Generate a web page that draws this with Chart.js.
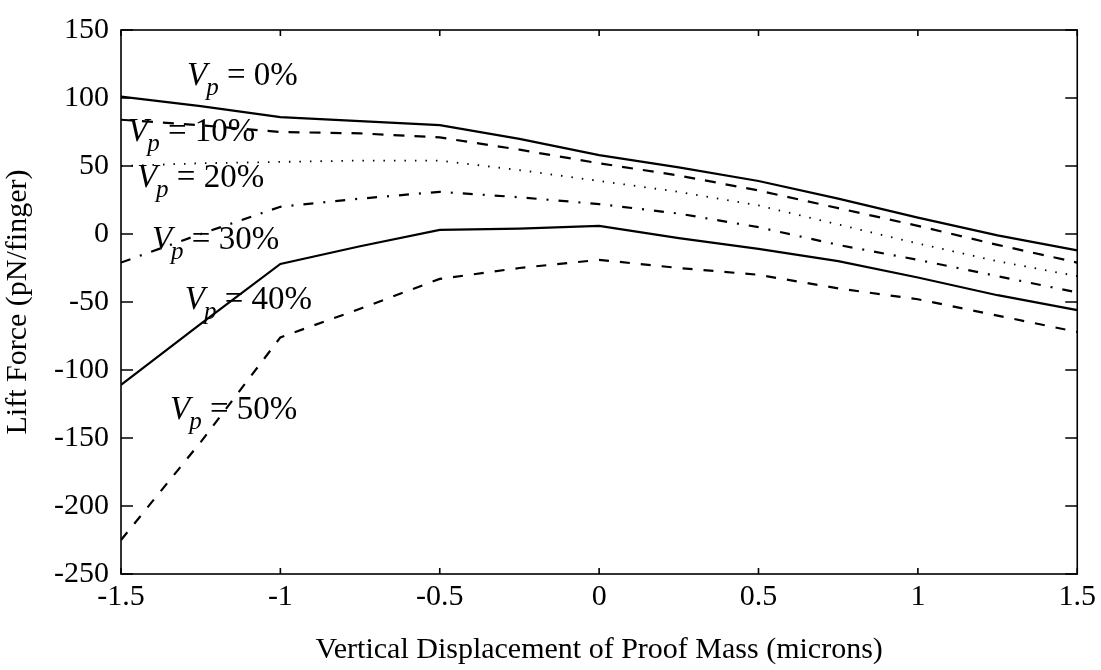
<!DOCTYPE html>
<html lang="en">
<head>
<meta charset="UTF-8">
<title>Lift Force vs Vertical Displacement</title>
<script src="https://cdn.jsdelivr.net/npm/chart.js"></script>
<style>
  html, body { margin: 0; padding: 0; background: #fff; }
</style>
</head>
<body>
<canvas id="liftChart" width="1101" height="670"></canvas>
<script>
// Vertical displacement of the proof mass (microns)
const displacement = [-1.5, -1.25, -1, -0.75, -0.5, -0.25, 0, 0.25, 0.5, 0.75, 1, 1.25, 1.5];

// Lift force per finger (pN) for each proof-mass voltage Vp
const vp0  = [101,   94,  86,  83,  80,  70,  58,  49,  39,  26,  12,  -1, -12];
const vp10 = [ 84,   80,  75,  74,  71,  62,  52,  43,  32,  19,   6,  -8, -21];
const vp20 = [ 50,   52,  53,  54,  54,  47,  39,  31,  21,   7,  -7, -20, -31];
const vp30 = [-21,    0,  20,  26,  31,  27,  22,  15,   5,  -8, -19, -31, -43];
const vp40 = [-111, -66, -22,  -9,   3,   4,   6,  -3, -11, -20, -32, -45, -56];
const vp50 = [-225, -153, -76, -55, -33, -25, -19, -25, -30, -40, -48, -60, -72];

const seriesNames = ['0%', '10%', '20%', '30%', '40%', '50%'];
const seriesValues = [vp0, vp10, vp20, vp30, vp40, vp50];

// Axis ticks
const xTickValues = [-1.5, -1, -0.5, 0, 0.5, 1, 1.5];
const yTickValues = [-250, -200, -150, -100, -50, 0, 50, 100, 150];

// line style per curve
const lineStyles = [
  { dash: [] },
  { dash: [11, 10] },
  { dash: [1.5, 9] },
  { dash: [10, 10, 2, 10] },
  { dash: [] },
  { dash: [10, 11] }
];

// where each "Vp = .." caption sits, in data units
const captionAnchors = [
  { x: -1.293, y: 109.6 },
  { x: -1.478, y: 68.7 },
  { x: -1.450, y: 34.4 },
  { x: -1.403, y: -11 },
  { x: -1.300, y: -54.8 },
  { x: -1.346, y: -136 }
];

const SERIF = '"Liberation Serif", "Times New Roman", serif';

// box frame with inward ticks plus the curve captions
const frameAndCaptions = {
  id: 'frameAndCaptions',
  afterDatasetsDraw(chart) {
    const { ctx, chartArea: a, scales: { x, y } } = chart;
    ctx.save();
    ctx.strokeStyle = '#000';
    ctx.lineWidth = 1.6;
    ctx.strokeRect(a.left, a.top, a.right - a.left, a.bottom - a.top);
    ctx.beginPath();
    x.ticks.forEach(t => {
      const px = x.getPixelForValue(t.value);
      ctx.moveTo(px, a.bottom); ctx.lineTo(px, a.bottom - 6);
      ctx.moveTo(px, a.top); ctx.lineTo(px, a.top + 6);
    });
    y.ticks.forEach(t => {
      const py = y.getPixelForValue(t.value);
      ctx.moveTo(a.left, py); ctx.lineTo(a.left + 12, py);
      ctx.moveTo(a.right, py); ctx.lineTo(a.right - 12, py);
    });
    ctx.stroke();

    ctx.fillStyle = '#000';
    ctx.textBaseline = 'alphabetic';
    ctx.textAlign = 'left';
    seriesNames.forEach((name, i) => {
      let px = x.getPixelForValue(captionAnchors[i].x);
      const py = y.getPixelForValue(captionAnchors[i].y);
      ctx.font = 'italic 33px ' + SERIF;
      ctx.fillText('V', px, py);
      px += ctx.measureText('V').width - 1;
      ctx.font = 'italic 25px ' + SERIF;
      ctx.fillText('p', px, py + 10);
      px += ctx.measureText('p').width;
      ctx.font = '33px ' + SERIF;
      ctx.fillText(' = ' + name, px, py);
    });
    ctx.restore();
  }
};

const datasets = seriesValues.map((vals, i) => ({
  label: 'Vp = ' + seriesNames[i],
  data: displacement.map((d, k) => ({ x: d, y: vals[k] })),
  borderColor: '#000',
  borderWidth: i === 2 ? 1.8 : 2.2,
  borderDash: lineStyles[i].dash,
  pointRadius: 0,
  tension: 0,
  fill: false
}));

Chart.defaults.color = '#000';
Chart.defaults.font.family = SERIF;

new Chart(document.getElementById('liftChart'), {
  type: 'line',
  data: { datasets },
  plugins: [frameAndCaptions],
  options: {
    responsive: false,
    animation: false,
    layout: { padding: { top: 26, right: 23, left: 0, bottom: 0 } },
    plugins: { legend: { display: false }, tooltip: { enabled: false } },
    scales: {
      x: {
        type: 'linear',
        min: -1.5,
        max: 1.5,
        afterBuildTicks: s => { s.ticks = xTickValues.map(v => ({ value: v })); },
        afterFit: s => { s.height = 96; },
        grid: { display: false, drawTicks: false },
        border: { display: false },
        ticks: { font: { size: 30 }, padding: 5, maxRotation: 0, callback: v => String(v) },
        title: {
          display: true,
          text: 'Vertical Displacement of Proof Mass (microns)',
          font: { size: 30 },
          padding: { top: 0, bottom: 2 }
        }
      },
      y: {
        type: 'linear',
        min: -250,
        max: 150,
        afterBuildTicks: s => { s.ticks = yTickValues.map(v => ({ value: v })); },
        afterFit: s => { s.width = 121; },
        grid: { display: false, drawTicks: false },
        border: { display: false },
        ticks: { font: { size: 30 }, padding: 12, callback: v => String(v) },
        title: {
          display: true,
          text: 'Lift Force (pN/finger)',
          font: { size: 30 },
          padding: { top: 0, bottom: 14 }
        }
      }
    }
  }
});
</script>
</body>
</html>
